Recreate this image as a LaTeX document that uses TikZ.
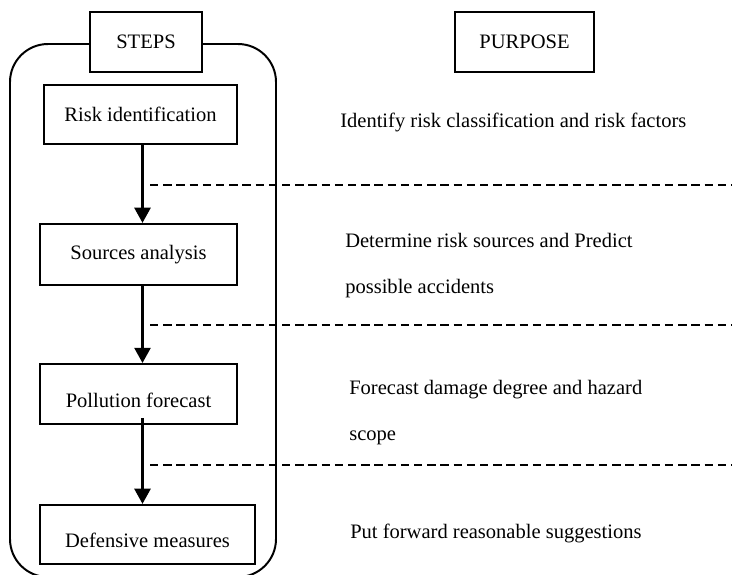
\documentclass[tikz,border=0pt]{standalone}
\usepackage{fontspec}
\setmainfont{Liberation Serif}
\usepackage{xcolor}
\usepackage{tikz}
\usetikzlibrary{arrows.meta}

\tikzset{
  stepbox/.style={
    draw=black,
    line width=1.4pt,
    fill=white,
    inner sep=0pt,
    font=\fontsize{14.6pt}{17pt}\selectfont,
  },
  lowtext/.style={text height=0.66cm},
  purposetext/.style={
    anchor=base west,
    align=left,
    inner sep=0pt,
    font=\fontsize{14.6pt}{32.7pt}\selectfont,
  },
  flow/.style={line width=1.9pt, -{Triangle[width=0.4cm, length=0.38cm]}},
  divider/.style={line width=1.4pt, dash pattern=on 0.21cm off 0.12cm},
}

\begin{document}
\begin{tikzpicture}[x=0.025cm, y=-0.025cm]
  \clip (0, 0) rectangle (732, 574);
  \draw[color=black, line width=1.4pt, rounded corners=0.95cm] (10, 44) rectangle (276, 577);

  \node[stepbox, minimum width=2.8cm, minimum height=1.5cm] (steps) at (146, 42) {STEPS};
  \node[stepbox, minimum width=3.48cm, minimum height=1.5cm] (purpose) at (524.5, 42) {PURPOSE};

  \node[stepbox, minimum width=4.83cm, minimum height=1.48cm] (risk) at (140.5, 114.5) {Risk identification};
  \node[stepbox, minimum width=4.93cm, minimum height=1.53cm] (sources) at (138.5, 254.5) {Sources analysis};
  \node[stepbox, lowtext, minimum width=4.93cm, minimum height=1.5cm] (pollution) at (138.5, 394) {Pollution forecast};
  \node[stepbox, lowtext, minimum width=5.38cm, minimum height=1.48cm] (defensive) at (147.5, 534.5) {Defensive measures};

  % arrows run down one line
  \coordinate (spine) at (142.5, 0);
  \draw[flow] (risk.south -| spine) -- (sources.north -| spine);
  \draw[flow] (sources.south -| spine) -- (pollution.north -| spine);
  \draw[flow] ([yshift=0.18cm]pollution.south -| spine) -- (defensive.north -| spine);

  \foreach \y in {185, 325, 465}
    \draw[divider] (150, \y) -- (732, \y);

  \node[purposetext] (identify) at (340, 127) {Identify risk classification and risk factors};
  \node[purposetext] (determine) at (345, 293) {Determine risk sources and Predict\\possible accidents};
  \node[purposetext] (forecast) at (349, 440) {Forecast damage degree and hazard\\scope};
  \node[purposetext] (suggest) at (350, 538) {Put forward reasonable suggestions};
\end{tikzpicture}
\end{document}
